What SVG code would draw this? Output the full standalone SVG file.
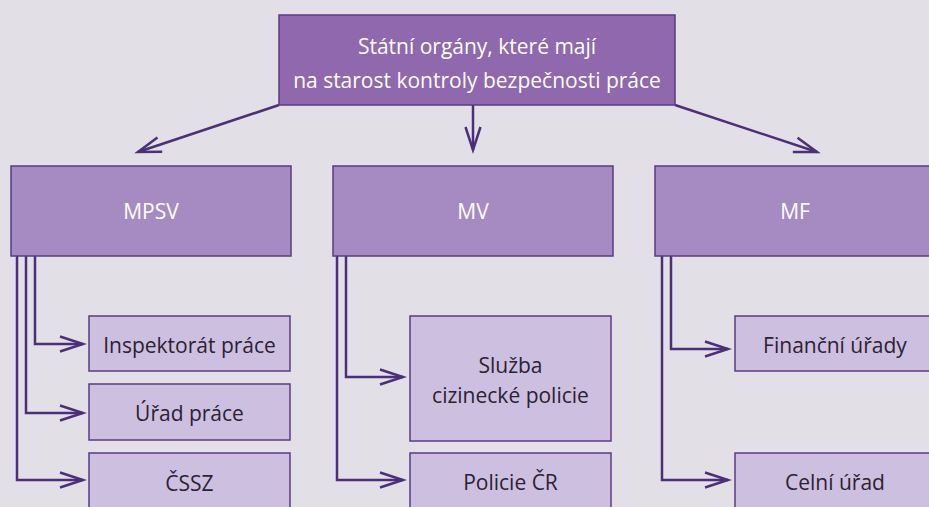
<svg xmlns="http://www.w3.org/2000/svg" width="929" height="507" viewBox="0 0 929 507">
<style>
.bg{fill:#e3dfe7}
.top{fill:#8f68ad;stroke:#5a3c82;stroke-width:1.5}
.mid{fill:#a68bc2;stroke:#5a3c82;stroke-width:1.5}
.sub{fill:#cdbfe0;stroke:#5a3c82;stroke-width:1.5}
.tw{font-family:"Open Sans","Noto Sans",sans-serif;font-size:21px;fill:#ffffff;text-anchor:middle}
.td{font-family:"Open Sans","Noto Sans",sans-serif;font-size:21px;fill:#2b2232;text-anchor:middle}
.c{fill:none;stroke:#4c2f79;stroke-width:2.5;marker-end:url(#arr)}
</style>
<defs>
<marker id="arr" markerUnits="userSpaceOnUse" markerWidth="28" markerHeight="20" refX="24" refY="10" orient="auto" viewBox="0 0 28 20">
<path d="M1,2.5 L24,10 L1,17.5" fill="none" stroke="#4c2f79" stroke-width="2.5"/>
</marker>
</defs>
<rect class="bg" x="0" y="0" width="929" height="507"/>
<g id="connectors">
<path class="c" d="M279,105 L138,152"/>
<path class="c" d="M473,105 L473,150"/>
<path class="c" d="M675,105 L817,152"/>
<path class="c" d="M35,256 L35,344 L83,344"/>
<path class="c" d="M26,256 L26,413 L83,413"/>
<path class="c" d="M17,256 L17,480 L83,480"/>
<path class="c" d="M346,256 L346,377 L403,377"/>
<path class="c" d="M337,256 L337,480 L403,480"/>
<path class="c" d="M671,256 L671,349 L728,349"/>
<path class="c" d="M662,256 L662,480 L728,480"/>
</g>
<g id="root">
<rect class="top" x="279" y="15" width="396" height="90"/>
<text class="tw" x="477" y="54">Státní orgány, které mají</text>
<text class="tw" x="477" y="88">na starost kontroly bezpečnosti práce</text>
</g>
<g id="mpsv">
<rect class="mid" x="11" y="166" width="280" height="90"/>
<text class="tw" x="151" y="219">MPSV</text>
</g>
<g id="mv">
<rect class="mid" x="333" y="166" width="280" height="90"/>
<text class="tw" x="473" y="219">MV</text>
</g>
<g id="mf">
<rect class="mid" x="655" y="166" width="280" height="90"/>
<text class="tw" x="795" y="219">MF</text>
</g>
<g id="inspektorat">
<rect class="sub" x="89" y="316" width="201" height="55"/>
<text class="td" x="189.5" y="353">Inspektorát práce</text>
</g>
<g id="urad-prace">
<rect class="sub" x="89" y="384" width="201" height="56"/>
<text class="td" x="189.5" y="421">Úřad práce</text>
</g>
<g id="cssz">
<rect class="sub" x="89" y="453" width="201" height="70"/>
<text class="td" x="189.5" y="491">ČSSZ</text>
</g>
<g id="sluzba">
<rect class="sub" x="410" y="316" width="201" height="125"/>
<text class="td" x="510.5" y="373">Služba</text>
<text class="td" x="510.5" y="403">cizinecké policie</text>
</g>
<g id="policie">
<rect class="sub" x="410" y="453" width="201" height="70"/>
<text class="td" x="510.5" y="490">Policie ČR</text>
</g>
<g id="financni">
<rect class="sub" x="735" y="316" width="201" height="55"/>
<text class="td" x="835" y="353">Finanční úřady</text>
</g>
<g id="celni">
<rect class="sub" x="735" y="453" width="201" height="70"/>
<text class="td" x="835" y="490">Celní úřad</text>
</g>
</svg>
